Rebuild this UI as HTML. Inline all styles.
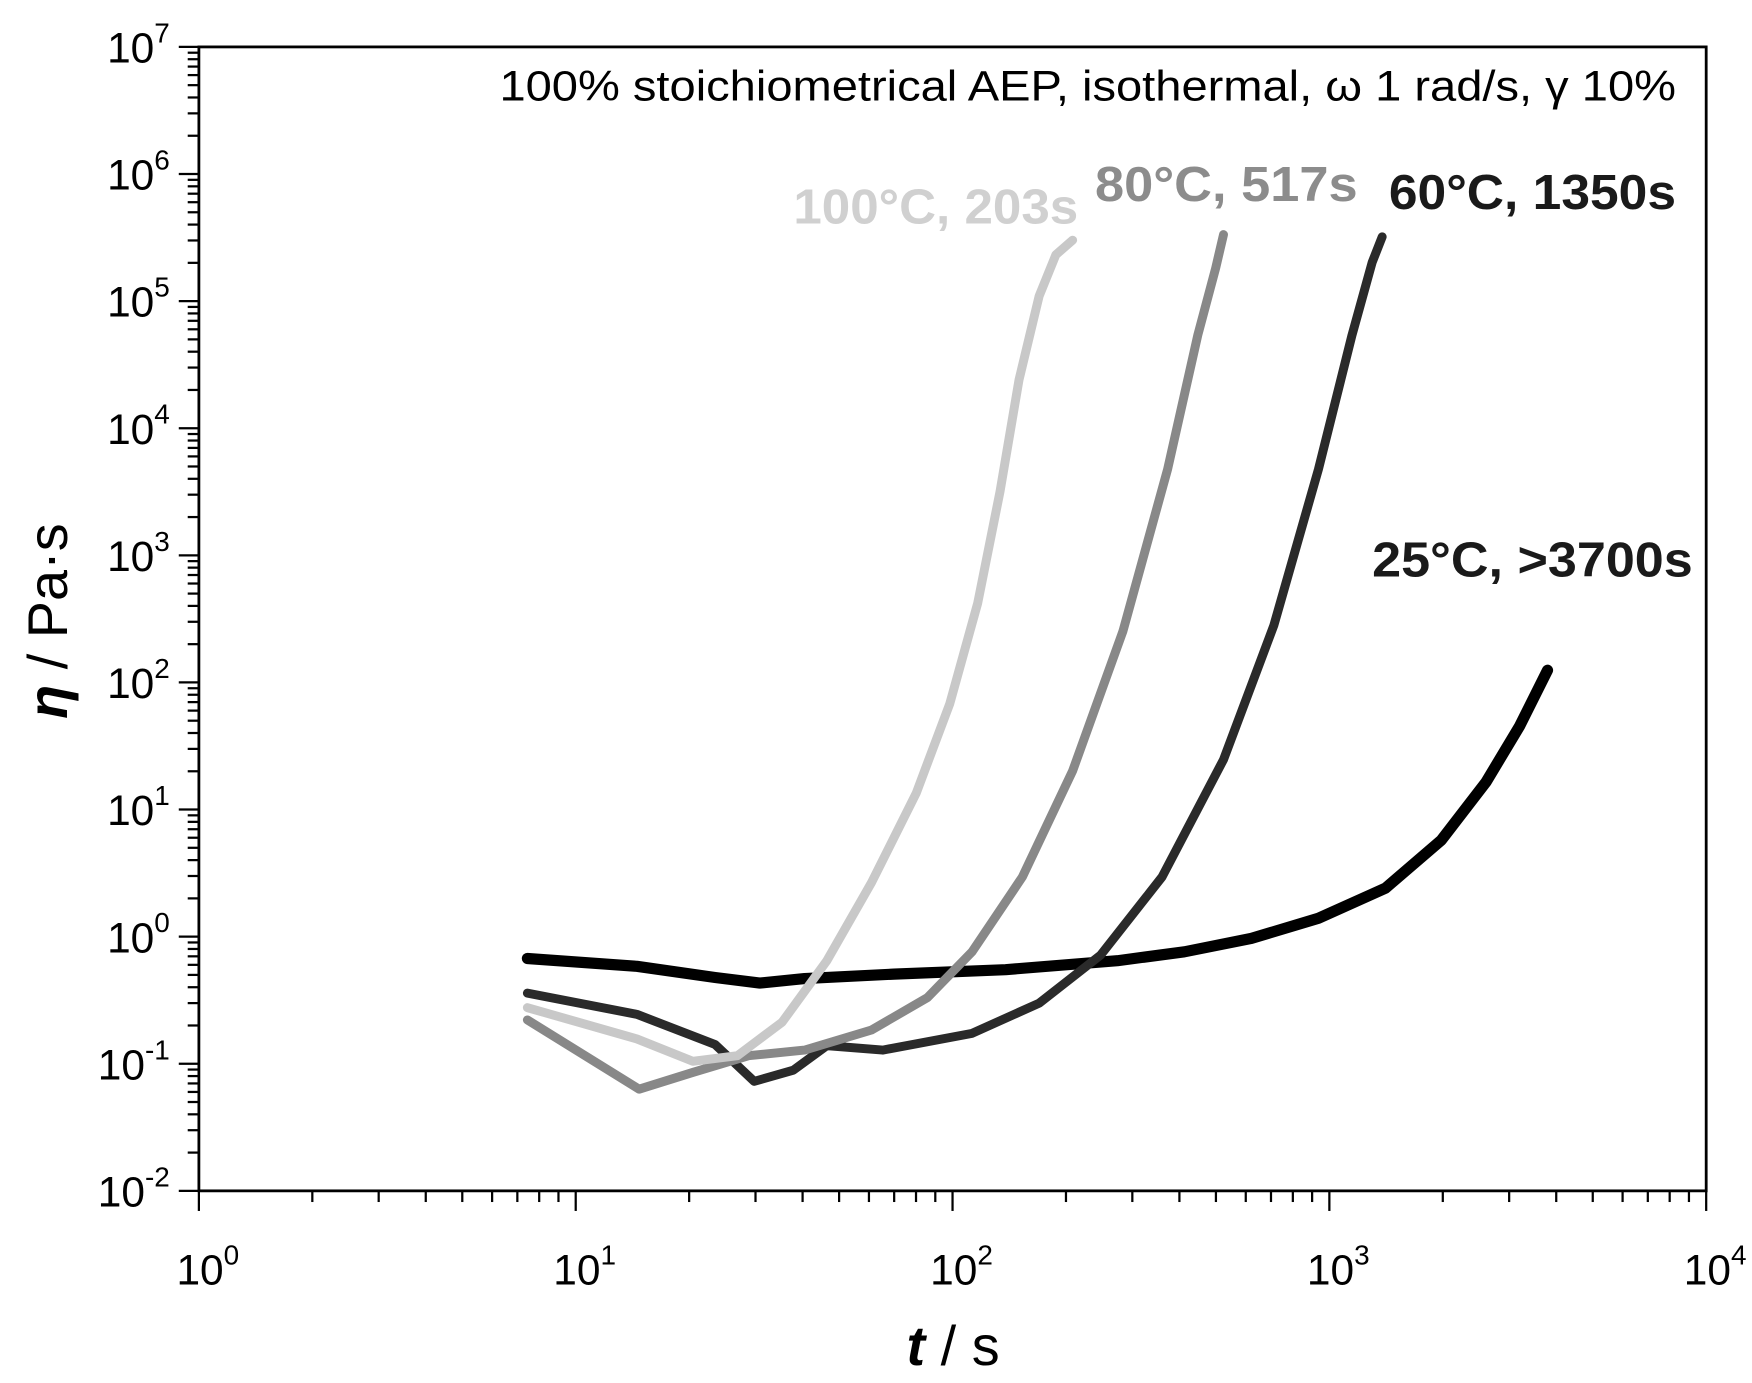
<!DOCTYPE html>
<html><head><meta charset="utf-8"><style>
html,body{margin:0;padding:0;background:#fff}
svg{display:block}
text{font-family:"Liberation Sans",Arial,sans-serif}
</style></head><body>
<svg id="s" width="1752" height="1383" viewBox="0 0 1568 1238" preserveAspectRatio="none" xmlns="http://www.w3.org/2000/svg">
<rect width="1568" height="1238" fill="#fff"/>
<g id="ticks" stroke="#000" stroke-width="2"></g>
<rect x="178" y="42" width="1349" height="1024" fill="none" stroke="#000" stroke-width="2.5"/>
<g id="labels" font-size="38" fill="#000"></g>
<text x="1500" y="90" font-size="38" text-anchor="end" textLength="1053" lengthAdjust="spacingAndGlyphs">100% stoichiometrical AEP, isothermal, ω 1 rad/s, γ 10%</text>
<g fill="none" stroke-linecap="round" stroke-linejoin="round">
<polyline stroke="#000" stroke-width="10" points="472,858 570,865 640,875 680,880 720,876 800,872 900,868 1000,860 1060,852 1120,840 1180,822 1240,795 1290,752 1330,700 1360,650 1385,600"/>
<polyline stroke="#2a2a2a" stroke-width="8" points="472,889 570,908 640,935 675,968 710,958 740,936 790,940 870,925 930,898 985,855 1040,785 1095,680 1140,560 1180,420 1210,300 1228,235 1237,212"/>
<polyline stroke="#888" stroke-width="8" points="472,913 572,975 620,960 670,945 720,940 780,922 830,893 870,852 915,785 960,690 1005,565 1045,420 1072,300 1088,240 1095,210"/>
<polyline stroke="#c8c8c8" stroke-width="8" points="472,902 570,930 620,950 660,945 700,915 740,860 780,790 820,710 850,630 875,540 895,440 912,340 930,265 945,228 960,215"/>
</g>
<g font-weight="bold" font-size="44">
<text x="710" y="200" fill="#d0d0d0" textLength="255" lengthAdjust="spacingAndGlyphs">100°C, 203s</text>
<text x="980" y="180" fill="#8c8c8c" textLength="235" lengthAdjust="spacingAndGlyphs">80°C, 517s</text>
<text x="1243" y="187" fill="#1a1a1a" textLength="257" lengthAdjust="spacingAndGlyphs">60°C, 1350s</text>
<text x="1228" y="516" fill="#1a1a1a" textLength="287" lengthAdjust="spacingAndGlyphs">25°C, &gt;3700s</text>
</g>
<text transform="translate(60,556) rotate(-90)" text-anchor="middle" font-size="50"><tspan font-weight="bold" font-style="italic">η</tspan> / Pa·s</text>
<text x="853" y="1222" text-anchor="middle" font-size="50"><tspan font-weight="bold" font-style="italic">t</tspan> / s</text>
</svg>
<script>
var ns="http://www.w3.org/2000/svg",T=document.getElementById("ticks"),L=document.getElementById("labels");
function ln(a,b,c,d){var e=document.createElementNS(ns,"line");e.setAttribute("x1",a);e.setAttribute("y1",b);e.setAttribute("x2",c);e.setAttribute("y2",d);T.appendChild(e);}
function lab(x,y,exp,anchor){var t=document.createElementNS(ns,"text");t.setAttribute("x",x);t.setAttribute("y",y);t.setAttribute("text-anchor",anchor);t.innerHTML='10<tspan font-size="25" dy="-18">'+exp+'</tspan>';L.appendChild(t);}
var x0=178,dx=337.25,y0=1066,dy=113.78;
for(var d=0;d<=4;d++){var x=x0+d*dx;ln(x,1066,x,1084);lab(x+8,1150,d,"middle");
 if(d<4)for(var m=2;m<=9;m++){var xm=x+Math.log10(m)*dx;ln(xm,1066,xm,1076);}}
for(var d=0;d<=9;d++){var y=y0-d*dy;ln(160,y,178,y);lab(152,y+14,d-2,"end");
 if(d<9)for(var m=2;m<=9;m++){var ym=y-Math.log10(m)*dy;ln(168,ym,178,ym);}}
</script>
</body></html>
